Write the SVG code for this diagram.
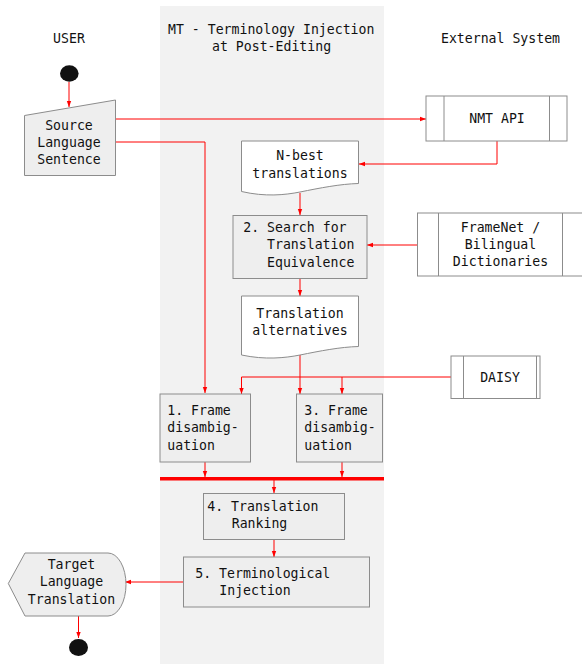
<svg xmlns="http://www.w3.org/2000/svg" width="582" height="664" viewBox="0 0 582 664">
<style>
text{font-family:"DejaVu Sans Mono","Liberation Mono",monospace;font-size:13.2px;fill:#111}
.c{text-anchor:middle}
.proc{fill:#eeeeee;stroke:#8c8c8c;stroke-width:1}
.doc{fill:#ffffff;stroke:#8c8c8c;stroke-width:1}
.ext{fill:#ffffff;stroke:#8c8c8c;stroke-width:1}
.ln{fill:none;stroke:#ff0000;stroke-width:1}
.dot{fill:#111}
</style>
<defs>
<marker id="ah" viewBox="0 0 6 6" refX="6" refY="3" markerWidth="6" markerHeight="6" markerUnits="userSpaceOnUse" orient="auto">
<path d="M0,0.8 L6,3 L0,5.2 Z" fill="#ff0000"/>
</marker>
</defs>
<rect x="160" y="6" width="224" height="658" fill="#f2f2f2"/>
<g id="titles">
<text class="c" x="69" y="43">USER</text>
<text x="168" y="34">MT - Terminology Injection</text>
<text x="212" y="51">at Post-Editing</text>
<text class="c" x="500.5" y="43">External System</text>
</g>
<g id="connectors">
<path class="ln" d="M69,82 V107" marker-end="url(#ah)"/>
<path class="ln" d="M115,119 H426" marker-end="url(#ah)"/>
<path class="ln" d="M115,142 H205 V393" marker-end="url(#ah)"/>
<path class="ln" d="M497,141 V164 H359" marker-end="url(#ah)"/>
<path class="ln" d="M300,193 V215" marker-end="url(#ah)"/>
<path class="ln" d="M417,245 H367" marker-end="url(#ah)"/>
<path class="ln" d="M300,278 V296" marker-end="url(#ah)"/>
<path class="ln" d="M300,355 V394" marker-end="url(#ah)"/>
<path class="ln" d="M451,377 H241.5 V394" marker-end="url(#ah)"/>
<path class="ln" d="M342,377 V394" marker-end="url(#ah)"/>
<path class="ln" d="M205,462 V477" marker-end="url(#ah)"/>
<path class="ln" d="M342,462 V477" marker-end="url(#ah)"/>
<path class="ln" d="M274,480 V493" marker-end="url(#ah)"/>
<path class="ln" d="M274,539 V557" marker-end="url(#ah)"/>
<path class="ln" d="M183,582 H125" marker-end="url(#ah)"/>
<path class="ln" d="M78.5,616 V638" marker-end="url(#ah)"/>
</g>
<g id="start"><ellipse class="dot" cx="69.3" cy="73.5" rx="9.3" ry="8.3"/></g>
<g id="source">
<path class="proc" d="M24.5,115.5 L115.5,100 V175.5 H24.5 Z"/>
<text class="c" x="69" y="130">Source</text>
<text class="c" x="69" y="147">Language</text>
<text class="c" x="69" y="164">Sentence</text>
</g>
<g id="nmt">
<rect class="ext" x="426" y="96" width="141" height="45"/>
<path class="ext" d="M444,96 V141 M549.5,96 V141"/>
<text class="c" x="497" y="123">NMT API</text>
</g>
<g id="nbest">
<path class="doc" d="M241.5,141 H358.5 V183.5 C340,184 320,188 300,192 C285,195 265,197 241.5,191.5 Z"/>
<text class="c" x="300" y="160">N-best</text>
<text class="c" x="300" y="177.5">translations</text>
</g>
<g id="search">
<rect class="proc" x="233" y="215.5" width="134" height="63"/>
<text x="243.3" y="231.7">2. Search for</text>
<text x="267" y="249.3">Translation</text>
<text x="267" y="266.7">Equivalence</text>
</g>
<g id="framenet">
<rect class="ext" x="417.5" y="213" width="170" height="63"/>
<path class="ext" d="M438.5,213 V276 M562.5,213 V276"/>
<text class="c" x="500.5" y="231.7">FrameNet /</text>
<text class="c" x="500.5" y="249">Bilingual</text>
<text class="c" x="500.5" y="266">Dictionaries</text>
</g>
<g id="alternatives">
<path class="doc" d="M241.5,296 H358.5 V346.5 C340,347 320,351 300,355 C285,358 265,360 241.5,355 Z"/>
<text class="c" x="300" y="318.3">Translation</text>
<text class="c" x="300" y="335">alternatives</text>
</g>
<g id="daisy">
<rect class="ext" x="451" y="356" width="89" height="42.5"/>
<path class="ext" d="M463.5,356 V398.5 M536.5,356 V398.5"/>
<text class="c" x="500" y="381.7">DAISY</text>
</g>
<g id="frame1">
<rect class="proc" x="160" y="394" width="90.5" height="68"/>
<text x="167.3" y="415">1. Frame</text>
<text x="167.3" y="432.3">disambig-</text>
<text x="167.3" y="450">uation</text>
</g>
<g id="frame3">
<rect class="proc" x="296.5" y="394" width="86" height="68"/>
<text x="304.3" y="415">3. Frame</text>
<text x="304.3" y="432.3">disambig-</text>
<text x="304.3" y="450">uation</text>
</g>
<g id="join"><rect x="160" y="477" width="224" height="3.5" fill="#ff0000"/></g>
<g id="ranking">
<rect class="proc" x="203.5" y="493.5" width="141" height="46"/>
<text x="207.3" y="510.7">4. Translation</text>
<text x="231.7" y="528.3">Ranking</text>
</g>
<g id="injection">
<rect class="proc" x="183.5" y="557" width="186" height="50"/>
<text x="195.3" y="578.3">5. Terminological</text>
<text x="219.3" y="595">Injection</text>
</g>
<g id="target">
<path class="proc" d="M8.3,583.5 L25,553 H108 A18,31.5 0 0 1 108,616 H25 Z"/>
<text class="c" x="71.5" y="569.3">Target</text>
<text class="c" x="71.5" y="586.3">Language</text>
<text class="c" x="71.5" y="604">Translation</text>
</g>
<g id="end"><ellipse class="dot" cx="78.5" cy="647.5" rx="9.5" ry="8.5"/></g>
</svg>
